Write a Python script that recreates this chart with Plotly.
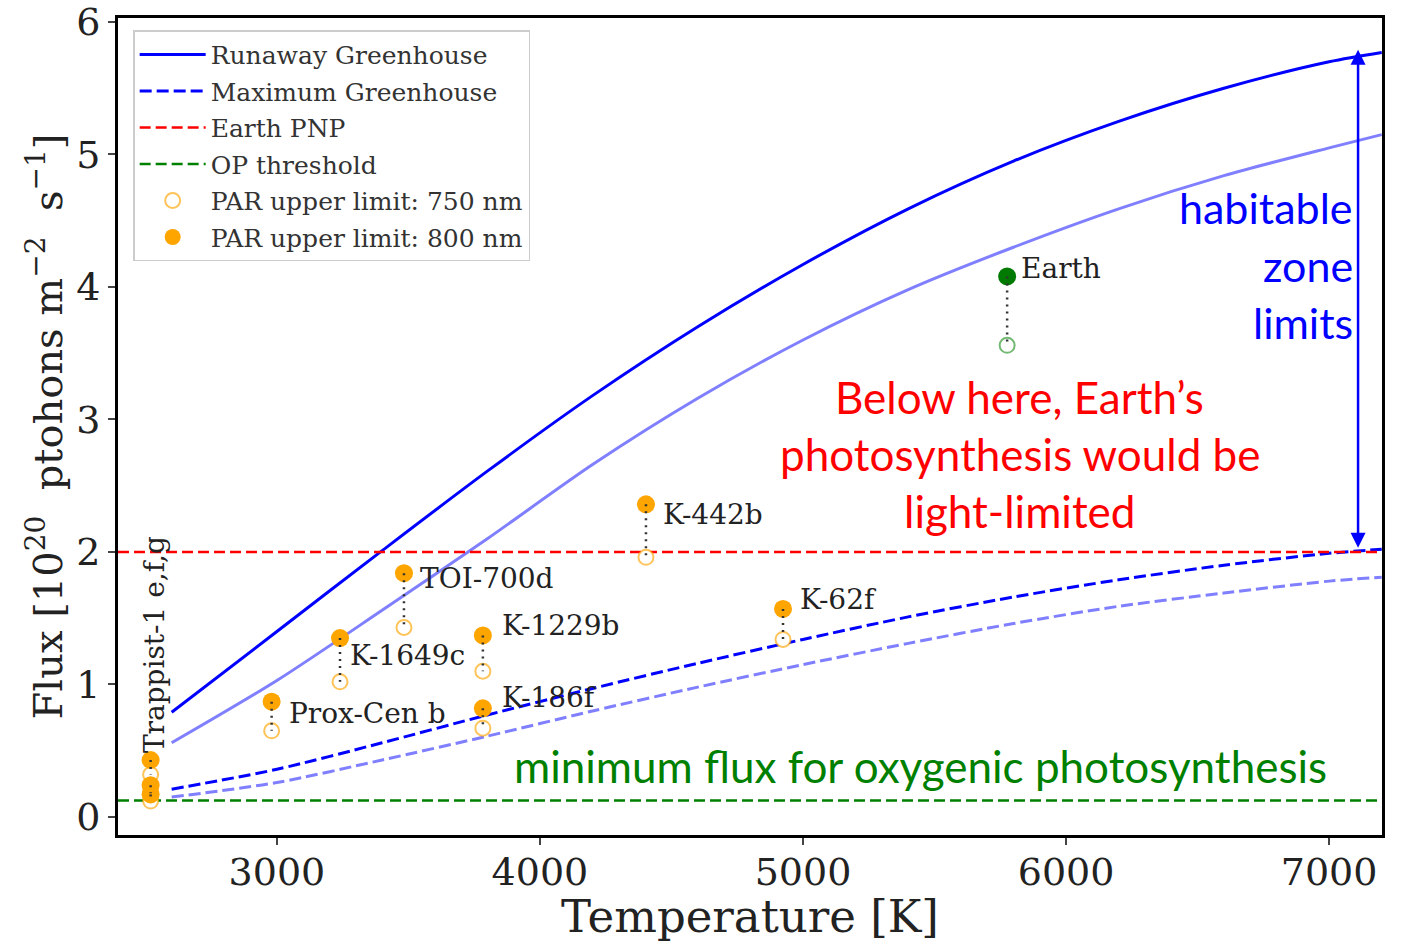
import plotly.graph_objects as go

# ---------------- data ----------------
T_curve = [2600, 3000, 3400, 3800, 4200, 4600, 5000, 5400, 5800, 6200, 6600, 7000, 7200]
runaway_1 = [0.79, 1.40, 2.01, 2.61, 3.18, 3.70, 4.17, 4.59, 4.95, 5.25, 5.50, 5.70, 5.77]
runaway_2 = [0.56, 1.03, 1.56, 2.10, 2.66, 3.16, 3.60, 3.98, 4.30, 4.59, 4.84, 5.05, 5.15]
maxgh_1 = [0.21, 0.36, 0.56, 0.77, 0.97, 1.16, 1.34, 1.51, 1.66, 1.79, 1.90, 1.99, 2.02]
maxgh_2 = [0.15, 0.26, 0.43, 0.61, 0.80, 0.98, 1.15, 1.31, 1.46, 1.59, 1.69, 1.78, 1.81]

x_span = [2396, 7201]
earth_pnp = 2.0
op_threshold = 0.125

planets = ["Trappist-1e", "Trappist-1f", "Trappist-1g", "Prox-Cen b", "K-1649c",
           "TOI-700d", "K-1229b", "K-186f", "K-442b", "K-62f"]
planet_T = [2520, 2520, 2520, 2980, 3240, 3483, 3783, 3783, 4403, 4924]
par_800 = [0.43, 0.24, 0.17, 0.87, 1.35, 1.84, 1.37, 0.82, 2.36, 1.57]
par_750 = [0.32, 0.18, 0.12, 0.65, 1.02, 1.43, 1.10, 0.67, 1.96, 1.34]

earth_T = [5776]
earth_800 = [4.08]
earth_750 = [3.56]

hz_arrow_T = 7110
hz_arrow_top = 5.79
hz_arrow_bottom = 2.02

# label placement (pixel offsets from filled marker)
label_names = ["Prox-Cen b", "K-1649c", "TOI-700d", "K-1229b", "K-186f", "K-442b", "K-62f"]
label_shift = {"Prox-Cen b": (15, -12), "K-1649c": (8, -17), "TOI-700d": (14, -5),
               "K-1229b": (17, 10), "K-186f": (17, 11), "K-442b": (15, -10),
               "K-62f": (15, 9)}

SERIF = "DejaVu Serif"
SANS = "Lato"
ORANGE = "#FFA500"
BLUE = "#0000FF"
FAINT = "rgba(0,0,255,0.5)"
LBL = "#222222"

fig = go.Figure()

fig.add_trace(go.Scatter(x=T_curve, y=runaway_1, mode="lines", name="Runaway Greenhouse",
                         legendgroup="a", legendrank=1,
                         line=dict(color=BLUE, width=3, shape="spline", smoothing=0.8)))
fig.add_trace(go.Scatter(x=T_curve, y=runaway_2, mode="lines", showlegend=False,
                         line=dict(color=FAINT, width=3, shape="spline", smoothing=0.8)))
fig.add_trace(go.Scatter(x=T_curve, y=maxgh_1, mode="lines", name="Maximum Greenhouse",
                         legendgroup="b", legendrank=2,
                         line=dict(color=BLUE, width=3, shape="spline", smoothing=0.8,
                                   dash="12px,5px")))
fig.add_trace(go.Scatter(x=T_curve, y=maxgh_2, mode="lines", showlegend=False,
                         line=dict(color=FAINT, width=3, shape="spline", smoothing=0.8,
                                   dash="12px,5px")))
fig.add_trace(go.Scatter(x=x_span, y=[earth_pnp] * 2, mode="lines", name="Earth PNP",
                         legendgroup="c", legendrank=3,
                         line=dict(color="#FF0000", width=2.5, dash="11px,5px")))
fig.add_trace(go.Scatter(x=x_span, y=[op_threshold] * 2, mode="lines", name="OP threshold",
                         legendgroup="d", legendrank=4,
                         line=dict(color="#008000", width=2.5, dash="11px,5px")))

# markers
fig.add_trace(go.Scatter(x=planet_T, y=par_750, mode="markers", name="PAR upper limit: 750 nm",
                         legendgroup="e", legendrank=5,
                         marker=dict(symbol="circle", size=15, color="white",
                                     line=dict(color="rgba(255,165,0,0.65)", width=2))))
fig.add_trace(go.Scatter(x=planet_T, y=par_800, mode="markers", name="PAR upper limit: 800 nm",
                         legendgroup="f", legendrank=6,
                         marker=dict(symbol="circle", size=18, color=ORANGE, line=dict(width=0))))
fig.add_trace(go.Scatter(x=earth_T, y=earth_750, mode="markers", showlegend=False,
                         marker=dict(symbol="circle", size=15, color="white",
                                     line=dict(color="rgba(0,128,0,0.55)", width=2))))
fig.add_trace(go.Scatter(x=earth_T, y=earth_800, mode="markers", showlegend=False,
                         marker=dict(symbol="circle", size=18, color="#007A00", line=dict(width=0))))

# dotted connectors (drawn on top)
cx, cy = [], []
for t, a, b in zip(planet_T + earth_T, par_800 + earth_800, par_750 + earth_750):
    cx += [t, t, None]
    cy += [a, b, None]
fig.add_trace(go.Scatter(x=cx, y=cy, mode="lines", showlegend=False,
                         line=dict(color="#333333", width=2.5, dash="2px,5px")))

# planet labels
for name in label_names:
    i = planets.index(name)
    dx, dy = label_shift[name]
    fig.add_annotation(x=planet_T[i], y=par_800[i], text=name, showarrow=False,
                       xanchor="left", yanchor="middle", xshift=dx, yshift=dy,
                       font=dict(family=SERIF, size=28, color=LBL))
fig.add_annotation(x=earth_T[0], y=earth_800[0], text="Earth", showarrow=False,
                   xanchor="left", yanchor="middle", xshift=12, yshift=8,
                   font=dict(family=SERIF, size=28, color=LBL))
fig.add_annotation(x=planet_T[0], y=par_800[0], text="Trappist-1 e,f,g", showarrow=False,
                   textangle=-90, xanchor="center", yanchor="bottom", xshift=4, yshift=5,
                   font=dict(family=SERIF, size=28, color=LBL))

# habitable zone arrow
fig.add_annotation(x=hz_arrow_T, y=hz_arrow_top, ax=hz_arrow_T, ay=hz_arrow_bottom,
                   xref="x", yref="y", axref="x", ayref="y", text="", showarrow=True,
                   arrowhead=2, startarrowhead=2, arrowside="end+start", arrowsize=1.2,
                   arrowwidth=2.5, arrowcolor=BLUE)

# text annotations (paper coords)
for txt, y in [("habitable", 0.7683), ("zone", 0.6973), ("limits", 0.6273)]:
    fig.add_annotation(x=0.979, y=y, xref="paper", yref="paper", text=txt, showarrow=False,
                       xanchor="right", yanchor="middle",
                       font=dict(family=SANS, size=43, color=BLUE))
for txt, y in [("Below here, Earth’s", 0.536), ("photosynthesis would be", 0.466),
               ("light-limited", 0.396)]:
    fig.add_annotation(x=0.7136, y=y, xref="paper", yref="paper", text=txt, showarrow=False,
                       xanchor="center", yanchor="middle",
                       font=dict(family=SANS, size=44, color="#FF0000"))
fig.add_annotation(x=0.6345, y=0.0845, xref="paper", yref="paper",
                   text="minimum flux for oxygenic photosynthesis", showarrow=False,
                   xanchor="center", yanchor="middle",
                   font=dict(family=SANS, size=44, color="#008000"))

fig.update_layout(
    width=1401, height=943,
    margin=dict(l=118, r=19, t=18, b=108, autoexpand=False),
    paper_bgcolor="white", plot_bgcolor="white",
    font=dict(family=SERIF, color=LBL),
    legend=dict(x=0.012, y=0.985, xanchor="left", yanchor="top",
                bgcolor="rgba(255,255,255,0.9)", bordercolor="#CCCCCC", borderwidth=1.5,
                font=dict(family=SERIF, size=25, color="#333333"),
                traceorder="grouped", tracegroupgap=1, itemwidth=66),
    xaxis=dict(range=x_span, tickvals=[3000, 4000, 5000, 6000, 7000], automargin=False,
               showgrid=False, zeroline=False, showline=True, mirror=True,
               linecolor="black", linewidth=3, ticks="outside", ticklen=7, tickwidth=1.5,
               ticklabelstandoff=-6,
               tickfont=dict(family=SERIF, size=38, color=LBL),
               title=dict(text="Temperature [K]", font=dict(family=SERIF, size=45), standoff=8)),
    yaxis=dict(range=[-0.136, 6.03], tickvals=[0, 1, 2, 3, 4, 5, 6], automargin=False,
               showgrid=False, zeroline=False, showline=True, mirror=True,
               linecolor="black", linewidth=3, ticks="outside", ticklen=7, tickwidth=1.5,
               tickfont=dict(family=SERIF, size=38, color=LBL),
               title=dict(text="Flux [10<sup>20</sup>  ptohons m<sup>−2</sup>  s<sup>−1</sup>]",
                          font=dict(family=SERIF, size=40), standoff=2)),
)

fig.write_html("out.html")
